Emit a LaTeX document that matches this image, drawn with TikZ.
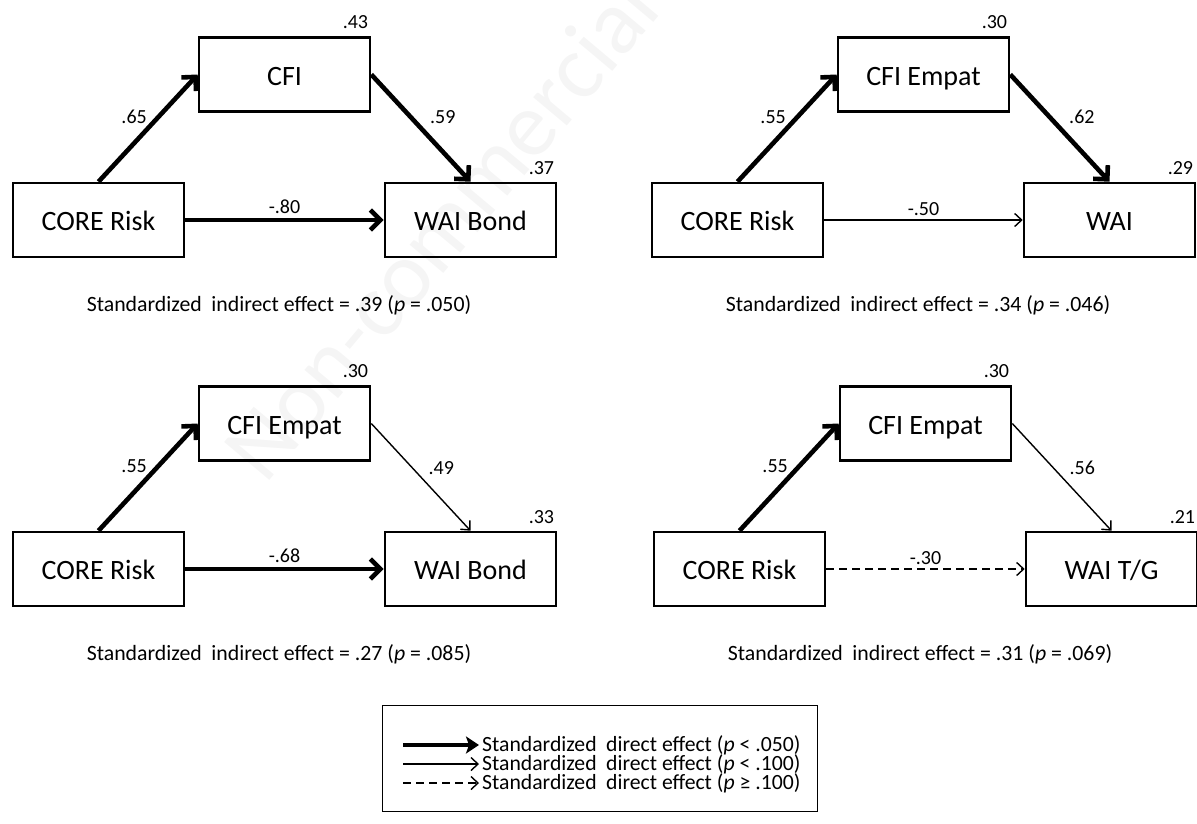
\documentclass[tikz,border=0pt]{standalone}
\usepackage{fontspec}
\setmainfont{Carlito}
\usetikzlibrary{arrows.meta}
\newcommand{\stdz}{Standardized\hspace{0.44em}}
\begin{document}
\begin{tikzpicture}[x=1pt,y=-1pt,
  box/.style={draw, line width=2.6pt, minimum width=171pt, minimum height=74pt, inner sep=0pt, text height=24pt, text depth=3pt, font=\fontsize{28}{30}\selectfont},
  coef/.style={font=\fontsize{20}{22}\selectfont, inner sep=2pt},
  rsq/.style={font=\fontsize{20}{22}\selectfont, inner sep=0pt, anchor=south east},
  captxt/.style={font=\fontsize{21.8}{24}\selectfont},
  legt/.style={font=\fontsize{21.7}{24}\selectfont, inner sep=3pt, anchor=west},
  sig/.style={line width=4.6pt, -{Straight Barb[length=10pt,width=20pt,line width=4.6pt]}},
  mar/.style={line width=1.4pt, -{Straight Barb[length=7pt,width=13pt,line width=1.4pt]}},
  ns/.style={mar, dash pattern=on 8pt off 5pt},
  legsig/.style={line width=4.6pt, -{Stealth[length=13pt,width=17pt,inset=3pt]}},
]
\useasboundingbox (0,0) rectangle (1197,823);

% very faint watermark
\node[rotate=50, text=black!4, font=\fontsize{92}{92}\selectfont] (wm) at (440,228) {Non-commercial};

% ---------- panel 1 ----------
\begin{scope}[shift={(0,0)}]
\node[box] (x1) at (98.5,220) {CORE Risk};
\node[box] (m1) at (284.5,74.5) {CFI};
\node[box] (y1) at (470.5,220) {WAI Bond};
\node[rsq] (rm1) at ([shift={(-3,-7)}]m1.north east) {.43};
\node[rsq] (ry1) at ([shift={(-3,-7)}]y1.north east) {.37};
\draw[sig] (x1.north) -- node[coef, anchor=south east, xshift=3pt] (a1) {.65} (m1.west);
\draw[sig] (m1.east) -- node[coef, anchor=south west, xshift=5pt] (b1) {.59} (y1.north);
\draw[sig] (x1.east) -- node[coef, anchor=south, inner sep=4pt] (c1) {-.80} (y1.west);
\node[captxt] (k1) at (279,305) {\stdz indirect effect = .39 (\textit{p} = .050)};
\end{scope}

% ---------- panel 2 ----------
\begin{scope}[shift={(639,0)}]
\node[box] (x2) at (98.5,220) {CORE Risk};
\node[box] (m2) at (284.5,74.5) {CFI Empat};
\node[box] (y2) at (470.5,220) {WAI};
\node[rsq] (rm2) at ([shift={(-3,-7)}]m2.north east) {.30};
\node[rsq] (ry2) at ([shift={(-3,-7)}]y2.north east) {.29};
\draw[sig] (x2.north) -- node[coef, anchor=south east, xshift=3pt] (a2) {.55} (m2.west);
\draw[sig] (m2.east) -- node[coef, anchor=south west, xshift=5pt] (b2) {.62} (y2.north);
\draw[mar] (x2.east) -- node[coef, anchor=south, inner sep=4pt] (c2) {-.50} (y2.west);
\node[captxt] (k2) at (279,305) {\stdz indirect effect = .34 (\textit{p} = .046)};
\end{scope}

% ---------- panel 3 ----------
\begin{scope}[shift={(0,349)}]
\node[box] (x3) at (98.5,220) {CORE Risk};
\node[box] (m3) at (284.5,74.5) {CFI Empat};
\node[box] (y3) at (470.5,220) {WAI Bond};
\node[rsq] (rm3) at ([shift={(-3,-7)}]m3.north east) {.30};
\node[rsq] (ry3) at ([shift={(-3,-7)}]y3.north east) {.33};
\draw[sig] (x3.north) -- node[coef, anchor=south east, xshift=3pt] (a3) {.55} (m3.west);
\draw[mar] (m3.east) -- node[coef, anchor=south west, xshift=5pt] (b3) {.49} (y3.north);
\draw[sig] (x3.east) -- node[coef, anchor=south, inner sep=4pt] (c3) {-.68} (y3.west);
\node[captxt] (k3) at (279,305) {\stdz indirect effect = .27 (\textit{p} = .085)};
\end{scope}

% ---------- panel 4 ----------
\begin{scope}[shift={(641,349)}]
\node[box] (x4) at (98.5,220) {CORE Risk};
\node[box] (m4) at (284.5,74.5) {CFI Empat};
\node[box] (y4) at (470.5,220) {WAI T/G};
\node[rsq] (rm4) at ([shift={(-3,-7)}]m4.north east) {.30};
\node[rsq] (ry4) at ([shift={(-3,-7)}]y4.north east) {.21};
\draw[sig] (x4.north) -- node[coef, anchor=south east, xshift=3pt] (a4) {.55} (m4.west);
\draw[mar] (m4.east) -- node[coef, anchor=south west, xshift=5pt] (b4) {.56} (y4.north);
\draw[ns] (x4.east) -- node[coef, anchor=south, inner sep=4pt] (c4) {-.30} (y4.west);
\node[captxt] (k4) at (279,305) {\stdz indirect effect = .31 (\textit{p} = .069)};
\end{scope}

% ---------- legend ----------
\node[draw, line width=1.3pt, minimum width=435pt, minimum height=106pt, inner sep=0pt] (leg) at (600,758.5) {};
\node[legt] (t1) at (479,745) {\stdz direct effect (\textit{p} < .050)};
\node[legt] (t2) at (479,764) {\stdz direct effect (\textit{p} < .100)};
\node[legt] (t3) at (479,783) {\stdz direct effect (\textit{p} ≥ .100)};
\coordinate (s1) at (403,745);
\coordinate (s2) at (403,764);
\coordinate (s3) at (403,783);
\draw[legsig] (s1) -- (t1.west);
\draw[mar] (s2) -- (t2.west);
\draw[ns] (s3) -- (t3.west);
\end{tikzpicture}
\end{document}
